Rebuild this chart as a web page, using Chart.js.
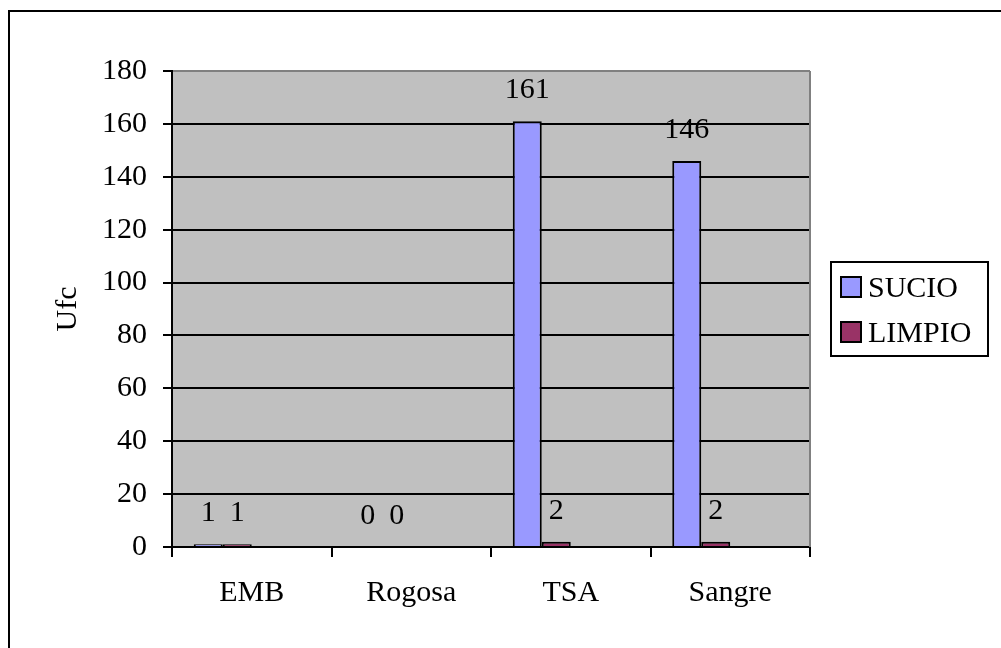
<!DOCTYPE html>
<html>
<head>
<meta charset="utf-8">
<script src="https://cdn.jsdelivr.net/npm/chart.js@4/dist/chart.umd.min.js"></script>
<style>
  html, body { margin:0; padding:0; background:#fff; overflow:hidden; }
  #frame { position:absolute; left:8px; top:10px; width:1100px; height:800px; border:2px solid #000; }
  #chart { position:absolute; left:0; top:0; }
</style>
</head>
<body>
<div id="frame"></div>
<canvas id="chart" width="1001" height="648"></canvas>
<script>
// data
const categories = ["EMB", "Rogosa", "TSA", "Sangre"];
const sucio = [1, 0, 161, 146];
const limpio = [1, 0, 2, 2];
const emptySeries = [null, null, null, null]; // two unused series keep the bar slots as in the original
const yMin = 0, yMax = 180, yStep = 20;

const serif = "'Liberation Serif', 'Times New Roman', serif";
const fontSize = 30;

// gray plot background + gray top/right border
const plotBackground = {
    id: 'plotBackground',
    beforeDraw(chart){
        const {ctx, chartArea:a} = chart;
        ctx.save();
        ctx.fillStyle = '#c0c0c0';
        ctx.fillRect(a.left, a.top, a.right - a.left, a.bottom - a.top);
        ctx.restore();
    },
    beforeDatasetsDraw(chart){
        const {ctx, chartArea:a} = chart;
        ctx.save();
        ctx.strokeStyle = '#808080';
        ctx.lineWidth = 2;
        ctx.beginPath();
        ctx.moveTo(a.right, a.top);
        ctx.lineTo(a.right, a.bottom);
        ctx.stroke();
        ctx.restore();
    }
};

// value labels over the two real series
const valueLabels = {
    id: 'valueLabels',
    afterDatasetsDraw(chart){
        const ctx = chart.ctx;
        ctx.save();
        ctx.font = fontSize + "px " + serif;
        ctx.fillStyle = '#000';
        ctx.textAlign = 'center';
        ctx.textBaseline = 'alphabetic';
        for(let d = 0; d < 2; d++){
            const meta = chart.getDatasetMeta(d);
            meta.data.forEach((bar, i) => {
                const v = chart.data.datasets[d].data[i];
                ctx.fillText(String(v), bar.x, bar.y - 23);
            });
        }
        ctx.restore();
    }
};

// boxed legend on the right
const boxLegend = {
    id: 'boxLegend',
    afterDraw(chart){
        const ctx = chart.ctx;
        const x = 831, y = 262, w = 157, h = 94;
        ctx.save();
        ctx.fillStyle = '#fff';
        ctx.fillRect(x, y, w, h);
        ctx.strokeStyle = '#000';
        ctx.lineWidth = 2;
        ctx.strokeRect(x, y, w, h);
        ctx.font = fontSize + "px " + serif;
        ctx.textBaseline = 'alphabetic';
        ctx.textAlign = 'left';
        for(let d = 0; d < 2; d++){
            const ds = chart.data.datasets[d];
            const my = 277 + d * 45;
            ctx.fillStyle = ds.backgroundColor;
            ctx.fillRect(841, my, 20, 20);
            ctx.lineWidth = 2;
            ctx.strokeRect(841, my, 20, 20);
            ctx.fillStyle = '#000';
            ctx.fillText(ds.label, 868, my + 20);
        }
        ctx.restore();
    }
};

new Chart(document.getElementById("chart").getContext("2d"), {
    type: 'bar',
    data: {
        labels: categories,
        datasets: [
            {label: 'SUCIO', data: sucio, backgroundColor: '#9999ff', borderColor: '#000', borderWidth: 2},
            {label: 'LIMPIO', data: limpio, backgroundColor: '#993366', borderColor: '#000', borderWidth: 2},
            {label: '', data: emptySeries, backgroundColor: 'transparent', borderWidth: 0},
            {label: '', data: emptySeries, backgroundColor: 'transparent', borderWidth: 0}
        ]
    },
    options: {
        responsive: false,
        animation: false,
        layout: { padding: { left: 0, top: 71, right: 191, bottom: 0 } },
        datasets: { bar: { categoryPercentage: 4 / 5.5, barPercentage: 1 } },
        plugins: { legend: { display: false }, tooltip: { enabled: false } },
        scales: {
            x: {
                afterFit(scale){ scale.height = 101; },
                grid: { drawOnChartArea: false, drawTicks: true, tickLength: 10, tickColor: '#000', lineWidth: 2 },
                border: { color: '#000', width: 2 },
                ticks: { color: '#000', padding: 18, font: { family: serif, size: fontSize } }
            },
            y: {
                min: yMin, max: yMax,
                afterFit(scale){ scale.width = 172; },
                grid: {
                    color: c => (c.tick && c.tick.value === yMax) ? '#808080' : '#000',
                    tickColor: '#000', lineWidth: 2, tickLength: 9
                },
                border: { color: '#000', width: 2 },
                ticks: { stepSize: yStep, color: '#000', padding: 16, font: { family: serif, size: fontSize } },
                title: { display: true, text: 'Ufc', color: '#000', padding: { top: 50, bottom: 0 }, font: { family: serif, size: fontSize } }
            }
        }
    },
    plugins: [plotBackground, valueLabels, boxLegend]
});
</script>
</body>
</html>
